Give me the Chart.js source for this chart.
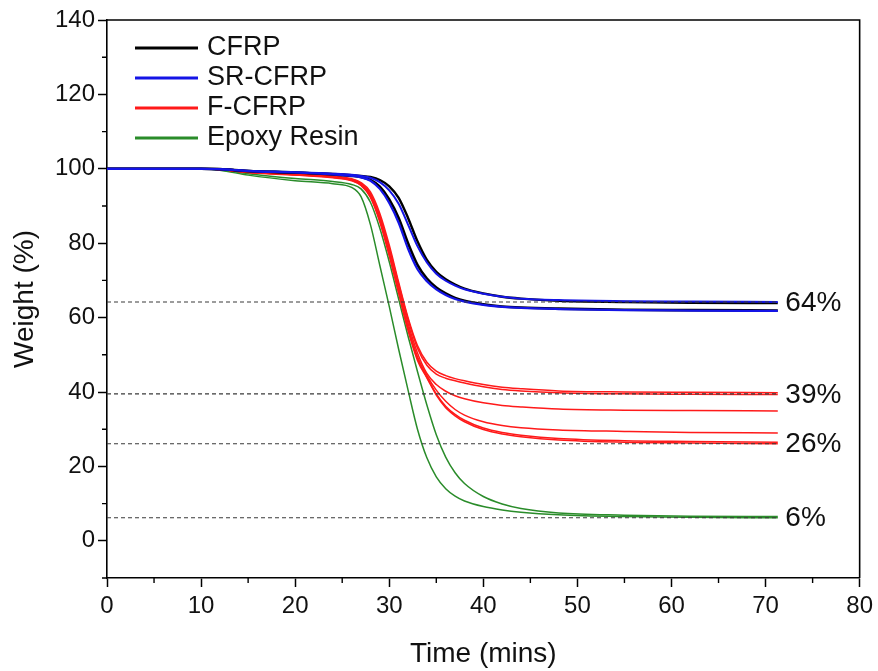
<!DOCTYPE html>
<html>
<head>
<meta charset="utf-8">
<script src="https://cdn.jsdelivr.net/npm/chart.js@4.4.1/dist/chart.umd.min.js"></script>
<style>
html,body{margin:0;padding:0;background:#fff;}
canvas{display:block;}
</style>
</head>
<body>
<canvas id="c" width="878" height="671"></canvas>
<script>
// ---- data ----
const time = [0, 10, 12, 15, 20, 24, 26, 27, 28, 29, 30, 31, 32, 33, 34, 35, 36, 37, 38, 40, 42, 44, 48, 55, 62, 71.3];

const cfrp1 = [100, 100, 99.9, 99.4, 99.0, 98.6, 98.3, 98.1, 97.8, 97.0, 95.3, 92.2, 86.8, 80.5, 75.5, 72.3, 70.3, 68.9, 67.8, 66.5, 65.6, 65.1, 64.5, 64.2, 64.0, 63.9];
const cfrp2 = [100, 100, 99.9, 99.4, 99.0, 98.5, 98.1, 97.8, 97.0, 95.2, 91.8, 86.8, 80.0, 74.2, 70.5, 68.1, 66.5, 65.3, 64.5, 63.6, 63.0, 62.7, 62.4, 62.1, 62.0, 61.9];

const srcfrp1 = [100, 100, 99.9, 99.5, 99.1, 98.7, 98.4, 98.1, 97.6, 96.4, 94.2, 90.6, 85.0, 79.2, 74.8, 71.8, 69.9, 68.6, 67.6, 66.4, 65.6, 65.1, 64.7, 64.4, 64.3, 64.2];
const srcfrp2 = [100, 100, 99.9, 99.4, 99.0, 98.5, 98.1, 97.7, 96.8, 94.6, 90.8, 85.5, 78.5, 73.0, 69.8, 67.6, 66.1, 65.0, 64.3, 63.4, 62.9, 62.6, 62.3, 62.0, 61.9, 61.8];

const fcfrp1 = [100, 100, 99.8, 99.2, 98.6, 98.0, 97.3, 96.3, 93.8, 88.0, 79.5, 69.5, 60.0, 52.5, 48.0, 45.6, 44.4, 43.6, 43.0, 42.0, 41.3, 40.9, 40.3, 40.0, 39.9, 39.8];
const fcfrp2 = [100, 100, 99.8, 99.2, 98.5, 97.9, 97.2, 96.1, 93.3, 87.2, 78.8, 69.0, 59.5, 51.8, 47.2, 44.8, 43.7, 43.0, 42.4, 41.4, 40.7, 40.3, 39.8, 39.5, 39.4, 39.3];
const fcfrp3 = [100, 100, 99.8, 99.1, 98.5, 97.9, 97.1, 96.0, 93.0, 87.0, 78.5, 68.5, 58.5, 50.5, 45.0, 42.0, 40.2, 39.0, 38.2, 37.1, 36.4, 36.0, 35.4, 35.1, 35.0, 34.9];
const fcfrp4 = [100, 100, 99.8, 99.1, 98.4, 97.8, 97.0, 95.8, 92.8, 86.5, 77.5, 67.5, 57.5, 49.5, 44.5, 40.5, 37.5, 35.3, 33.8, 32.0, 31.0, 30.4, 29.8, 29.4, 29.1, 29.0];
const fcfrp5 = [100, 100, 99.8, 99.1, 98.4, 97.7, 96.9, 95.6, 92.5, 86.0, 77.0, 67.0, 57.0, 49.0, 44.0, 39.5, 36.2, 34.0, 32.4, 30.3, 29.1, 28.4, 27.5, 26.9, 26.7, 26.5];
const fcfrp6 = [100, 100, 99.8, 99.0, 98.3, 97.6, 96.8, 95.5, 92.3, 85.7, 76.6, 66.5, 56.5, 48.5, 43.8, 39.2, 35.8, 33.6, 32.0, 29.9, 28.7, 28.0, 27.1, 26.5, 26.3, 26.1];

const epoxy1 = [100, 100, 99.6, 98.3, 96.8, 96.0, 95.0, 92.5, 85.0, 74.0, 63.0, 51.5, 40.5, 30.0, 22.3, 17.2, 14.0, 12.0, 10.7, 9.2, 8.3, 7.7, 7.0, 6.5, 6.3, 6.2];
const epoxy2 = [100, 100, 99.7, 98.7, 97.4, 96.6, 95.8, 94.6, 91.0, 84.0, 75.0, 65.0, 55.0, 45.5, 36.5, 28.5, 22.5, 18.3, 15.4, 11.9, 9.9, 8.7, 7.5, 6.9, 6.6, 6.5];

const refLevels = [64.2, 39.5, 26.1, 6.2];
const refLabels = ['64%', '39%', '26%', '6%'];
const refEnd = 71.3;
const refLabelX = 72.1;

const legendLabels = ['CFRP', 'SR-CFRP', 'F-CFRP', 'Epoxy Resin'];
const xTicks = [0, 10, 20, 30, 40, 50, 60, 70, 80];
const xMinor = [5, 15, 25, 35, 45, 55, 65, 75];
const yTicks = [0, 20, 40, 60, 80, 100, 120, 140];
const yMinor = [-10, 10, 30, 50, 70, 90, 110, 130];

// ---- styles ----
const COL = { cfrp: '#000000', sr: '#1414e6', f: '#ff1a1a', ep: '#2a8c2a' };
const legendColors = [COL.cfrp, COL.sr, COL.f, COL.ep];
const FONT = '"Liberation Sans", Arial, Helvetica, sans-serif';

const pts = arr => arr.map((v, i) => ({ x: time[i], y: v }));
const curve = (arr, color, w) => ({
  data: pts(arr), borderColor: color, borderWidth: w, pointRadius: 0,
  fill: false, cubicInterpolationMode: 'monotone'
});

const datasets = [];
refLevels.forEach(l => datasets.push({
  data: [{ x: 0, y: l }, { x: refEnd, y: l }], borderColor: '#3a3a3a', borderWidth: 1.1,
  borderDash: [4, 3], pointRadius: 0, fill: false
}));
datasets.push(curve(srcfrp1, COL.sr, 2));
datasets.push(curve(srcfrp2, COL.sr, 2.2));
datasets.push(curve(cfrp1, COL.cfrp, 2.4));
datasets.push(curve(cfrp2, COL.cfrp, 2.6));
[fcfrp1, fcfrp2, fcfrp3, fcfrp4, fcfrp5, fcfrp6].forEach(a => datasets.push(curve(a, COL.f, 1.5)));
datasets.push(curve(epoxy1, COL.ep, 1.5));
datasets.push(curve(epoxy2, COL.ep, 1.5));

const decor = {
  id: 'decor',
  afterDraw(chart) {
    const ctx = chart.ctx, a = chart.chartArea;
    const xs = chart.scales.x, ys = chart.scales.y;
    ctx.save();
    // frame (top & right)
    ctx.strokeStyle = '#000'; ctx.lineWidth = 1.6;
    ctx.beginPath();
    ctx.moveTo(a.left, a.top); ctx.lineTo(a.right, a.top); ctx.lineTo(a.right, a.bottom);
    ctx.stroke();
    // minor ticks
    ctx.lineWidth = 1.4;
    ctx.beginPath();
    xMinor.forEach(v => { const p = xs.getPixelForValue(v); ctx.moveTo(p, a.bottom); ctx.lineTo(p, a.bottom + 5); });
    yMinor.forEach(v => { const p = ys.getPixelForValue(v); ctx.moveTo(a.left, p); ctx.lineTo(a.left - 5, p); });
    ctx.stroke();
    // percentage labels
    ctx.fillStyle = '#111';
    ctx.font = '28px ' + FONT;
    ctx.textAlign = 'left'; ctx.textBaseline = 'middle';
    refLabels.forEach((t, i) => ctx.fillText(t, xs.getPixelForValue(refLabelX), ys.getPixelForValue(refLevels[i]) + 1));
    // legend
    ctx.font = '27px ' + FONT;
    legendLabels.forEach((t, i) => {
      const y = a.top + 28 + i * 30;
      ctx.strokeStyle = legendColors[i]; ctx.lineWidth = 2.8;
      ctx.beginPath(); ctx.moveTo(a.left + 28, y); ctx.lineTo(a.left + 91, y); ctx.stroke();
      ctx.fillStyle = '#111';
      ctx.fillText(t, a.left + 100, y);
    });
    ctx.restore();
  }
};

new Chart(document.getElementById('c'), {
  type: 'line',
  data: { datasets },
  options: {
    responsive: false, animation: false, devicePixelRatio: 1,
    layout: { padding: { top: 20, right: 18, left: 0, bottom: 0 } },
    plugins: { legend: { display: false }, tooltip: { enabled: false } },
    scales: {
      x: {
        type: 'linear', min: 0, max: 80,
        afterBuildTicks: s => { s.ticks = xTicks.map(v => ({ value: v })); },
        afterFit: s => { s.height = 93; },
        ticks: { color: '#111', font: { family: FONT, size: 24 }, padding: 5, maxRotation: 0 },
        grid: { display: true, drawOnChartArea: false, drawTicks: true, tickLength: 9, color: '#000', tickWidth: 1.5 },
        border: { display: true, color: '#000', width: 1.6 },
        title: { display: true, text: 'Time (mins)', color: '#111', font: { family: FONT, size: 28 }, padding: { top: 0, bottom: 0 } }
      },
      y: {
        type: 'linear', min: -10, max: 140,
        afterBuildTicks: s => { s.ticks = yTicks.map(v => ({ value: v })); },
        afterFit: s => { s.width = 107; },
        ticks: { color: '#111', font: { family: FONT, size: 24 }, padding: 3 },
        grid: { display: true, drawOnChartArea: false, drawTicks: true, tickLength: 9, color: '#000', tickWidth: 1.5 },
        border: { display: true, color: '#000', width: 1.6 },
        title: { display: true, text: 'Weight (%)', color: '#111', font: { family: FONT, size: 28 }, padding: { top: 8, bottom: 0 } }
      }
    }
  },
  plugins: [decor]
});
</script>
</body>
</html>
